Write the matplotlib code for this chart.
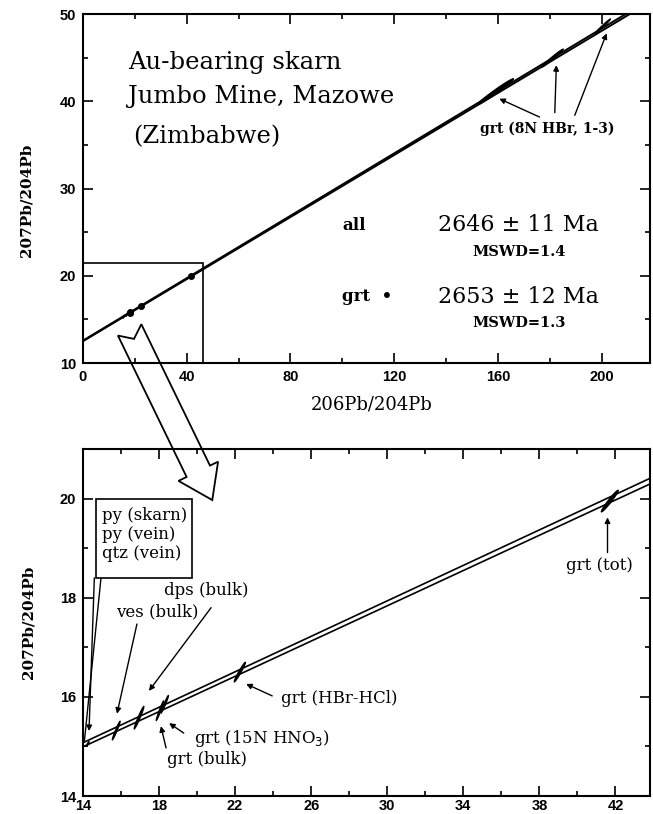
import numpy as np
import matplotlib.pyplot as plt
from matplotlib.patches import Polygon, Rectangle
from matplotlib.ticker import MultipleLocator

# isochrons (intercept, slope) in 207Pb/204Pb vs 206Pb/204Pb
iso_b = [12.57, 12.50]
iso_m = [0.1789, 0.1779]

# leachates / minerals: x, y, sx, sy, rho
samp_names = ['py (skarn)', 'ves (bulk)', 'dps (bulk)', 'grt (bulk)',
              'grt (15N HNO3)', 'grt (HBr-HCl)', 'grt (tot)',
              'grt HBr 1', 'grt HBr 2', 'grt HBr 3']
samp_x = [14.25, 15.75, 16.95, 18.05, 18.30, 22.25, 41.70, 159.0, 181.0, 200.4]
samp_y = [15.05, 15.32, 15.58, 15.72, 15.85, 16.50, 19.95, 41.1, 44.95, 48.6]
samp_sx = [0.08, 0.21, 0.26, 0.20, 0.20, 0.30, 0.45, 7.0, 4.2, 3.0]
samp_sy = [0.05, 0.19, 0.23, 0.20, 0.18, 0.20, 0.22, 1.5, 1.05, 0.85]
samp_rho = [0.9, 0.97, 0.97, 0.97, 0.97, 0.97, 0.97, 0.985, 0.985, 0.985]
is_grt = [False, False, False, True, True, True, True, True, True, True]

# zoomed area marked on the upper plot
zoom_box = [0.0, 46.3, 10.0, 21.5]
# box holding the sulphide / quartz labels (lower plot)
py_box = [14.68, 19.74, 18.40, 20.0]

SERIF = 'DejaVu Serif'
SANS = 'Liberation Sans'


def ellipse_xy(x, y, sx, sy, rho, n=80):
    cov = np.array([[sx * sx, rho * sx * sy], [rho * sx * sy, sy * sy]])
    vals, vecs = np.linalg.eigh(cov)
    t = np.linspace(0, 2 * np.pi, n)
    pts = vecs @ (np.sqrt(np.clip(vals, 0, None))[:, None] *
                  np.array([np.cos(t), np.sin(t)]))
    return x + pts[0], y + pts[1]


def style_axes(ax, xloc, xmin, ymaj, ymin, xpad):
    ax.xaxis.set_major_locator(xloc)
    ax.xaxis.set_minor_locator(MultipleLocator(xmin))
    ax.yaxis.set_major_locator(MultipleLocator(ymaj))
    ax.yaxis.set_minor_locator(MultipleLocator(ymin))
    ax.tick_params(which='both', direction='in', top=True, right=True,
                   width=1.2)
    ax.tick_params(which='major', length=7)
    ax.tick_params(which='minor', length=3.5)
    ax.tick_params(axis='x', pad=xpad)
    ax.tick_params(axis='y', pad=5)
    for lab in ax.get_xticklabels() + ax.get_yticklabels():
        lab.set_fontfamily(SANS)
        lab.set_fontweight('bold')
        lab.set_fontsize(10.5)
    for sp in ax.spines.values():
        sp.set_linewidth(1.5)


fig = plt.figure(figsize=(6.53, 8.14), dpi=100)
ax1 = fig.add_axes([0.127, 0.554, 0.868, 0.4287])
ax2 = fig.add_axes([0.127, 0.0221, 0.868, 0.4263])

# ---- upper plot
ax1.set_xlim(0, 218.5)
ax1.set_ylim(10, 50)
xs = np.array(ax1.get_xlim())
for b, m in zip(iso_b, iso_m):
    ax1.plot(xs, b + m * xs, color='black', lw=1.4)
for i in range(len(samp_x)):
    ex, ey = ellipse_xy(samp_x[i], samp_y[i], samp_sx[i], samp_sy[i],
                        samp_rho[i])
    ax1.fill(ex, ey, color='black', lw=0.8)
    if is_grt[i] and samp_x[i] < 100:
        ax1.plot(samp_x[i], samp_y[i], 'o', color='black', ms=4)

ax1.add_patch(Rectangle((zoom_box[0], zoom_box[2]),
                        zoom_box[1] - zoom_box[0], zoom_box[3] - zoom_box[2],
                        fill=False, ec='black', lw=1.2))

ax1.text(17.3, 44.4, 'Au-bearing skarn', family=SERIF, fontsize=17.5,
         va='center')
ax1.text(17.3, 40.5, 'Jumbo Mine, Mazowe', family=SERIF, fontsize=17.5,
         va='center')
ax1.text(19.5, 35.9, '(Zimbabwe)', family=SERIF, fontsize=17.5, va='center')

ax1.text(100, 25.8, 'all', family=SERIF, fontsize=12, fontweight='bold',
         va='center')
ax1.text(137, 25.8, '2646 \u00b1 11 Ma', family=SERIF, fontsize=16,
         va='center')
ax1.text(168, 22.7, 'MSWD=1.4', family=SERIF, fontsize=10.5,
         fontweight='bold', va='center', ha='center')
ax1.text(100, 17.6, 'grt  \u2022', family=SERIF, fontsize=12,
         fontweight='bold', va='center')
ax1.text(137, 17.6, '2653 \u00b1 12 Ma', family=SERIF, fontsize=16,
         va='center')
ax1.text(168, 14.6, 'MSWD=1.3', family=SERIF, fontsize=10.5,
         fontweight='bold', va='center', ha='center')

ax1.text(153, 36.9, 'grt (8N HBr, 1-3)', family=SERIF, fontsize=10,
         fontweight='bold', va='center')
arr = dict(arrowstyle='-|>', color='black', lw=1.0, mutation_scale=8,
           shrinkA=0, shrinkB=0)
for (x0, y0), i in zip([(176, 38.2), (181.9, 38.7), (189.6, 38.4)],
                       [7, 8, 9]):
    ax1.annotate('', xy=(samp_x[i] + 1.5, samp_y[i] - 0.8), xytext=(x0, y0),
                 arrowprops=arr)

ax1.set_xlabel('206Pb/204Pb', family=SERIF, fontsize=13)
ax1.xaxis.set_label_coords(0.51, -0.093)
ax1.set_ylabel('207Pb/204Pb', family=SERIF, fontsize=11, fontweight='bold')
ax1.yaxis.set_label_coords(-0.088, 0.467)
style_axes(ax1, MultipleLocator(40), 20, 10, 5, 5)

# ---- lower plot
ax2.set_xlim(14, 43.8)
ax2.set_ylim(14, 21)
xs = np.array(ax2.get_xlim())
for b, m in zip(iso_b, iso_m):
    ax2.plot(xs, b + m * xs, color='black', lw=1.2)
for i in range(7):
    ex, ey = ellipse_xy(samp_x[i], samp_y[i], samp_sx[i], samp_sy[i],
                        samp_rho[i])
    ax2.fill(ex, ey, color='black', lw=0.8)

ax2.add_patch(Rectangle((py_box[0], py_box[2]), py_box[1] - py_box[0],
                        py_box[3] - py_box[2], fill=True, fc='white',
                        ec='black', lw=1.2, zorder=4))
ax2.text(15.0, 19.83, 'py (skarn)\npy (vein)\nqtz (vein)', family=SERIF,
         fontsize=12, va='top', linespacing=1.15, zorder=5)
ax2.annotate('', xy=(14.32, 15.31), xytext=(14.6, 18.4), arrowprops=arr)
ax2.annotate('', xy=(14.08, 15.12), xytext=(14.95, 18.4),
             arrowprops=dict(arr, arrowstyle='-'))

lab_kw = dict(family=SERIF, fontsize=12, va='center')
ax2.text(20.5, 18.14, 'dps (bulk)', ha='center', **lab_kw)
ax2.annotate('', xy=(17.47, 16.12), xytext=(20.74, 17.80), arrowprops=arr)
ax2.text(17.9, 17.72, 'ves (bulk)', ha='center', **lab_kw)
ax2.annotate('', xy=(15.79, 15.66), xytext=(16.84, 17.47), arrowprops=arr)
ax2.text(24.4, 15.96, 'grt (HBr-HCl)', **lab_kw)
ax2.annotate('', xy=(22.58, 16.26), xytext=(23.95, 16.02), arrowprops=arr)
ax2.text(19.84, 15.17, 'grt (15N HNO$_3$)', **lab_kw)
ax2.annotate('', xy=(18.53, 15.47), xytext=(19.3, 15.27), arrowprops=arr)
ax2.text(18.42, 14.73, 'grt (bulk)', **lab_kw)
ax2.annotate('', xy=(18.1, 15.41), xytext=(18.37, 14.97), arrowprops=arr)
ax2.text(39.42, 18.65, 'grt (tot)', **lab_kw)
ax2.annotate('', xy=(41.58, 19.62), xytext=(41.58, 18.91), arrowprops=arr)

ax2.set_ylabel('207Pb/204Pb', family=SERIF, fontsize=11, fontweight='bold')
ax2.yaxis.set_label_coords(-0.083, 0.5)
style_axes(ax2, MultipleLocator(4, offset=2), 2, 2, 1, 2)

# ---- big hollow arrow from the box to the enlarged plot
p0 = ax1.transData.transform((18, 13.8))
p1 = ax2.transData.transform((20.8, 19.97))
d = (p1 - p0) / np.hypot(*(p1 - p0))
n = np.array([-d[1], d[0]])
w, hw, hl, nd = 13, 22, 32, 10
pts = [p0 + n * w, p0 + d * nd, p0 - n * w,
       p1 - d * hl - n * w, p1 - d * hl - n * hw, p1,
       p1 - d * hl + n * hw, p1 - d * hl + n * w]
pts = fig.transFigure.inverted().transform(np.array(pts))
fig.add_artist(Polygon(pts, closed=True, fill=False, ec='black', lw=1.3,
                       transform=fig.transFigure, zorder=10))

fig.savefig('out.png', dpi=100)
